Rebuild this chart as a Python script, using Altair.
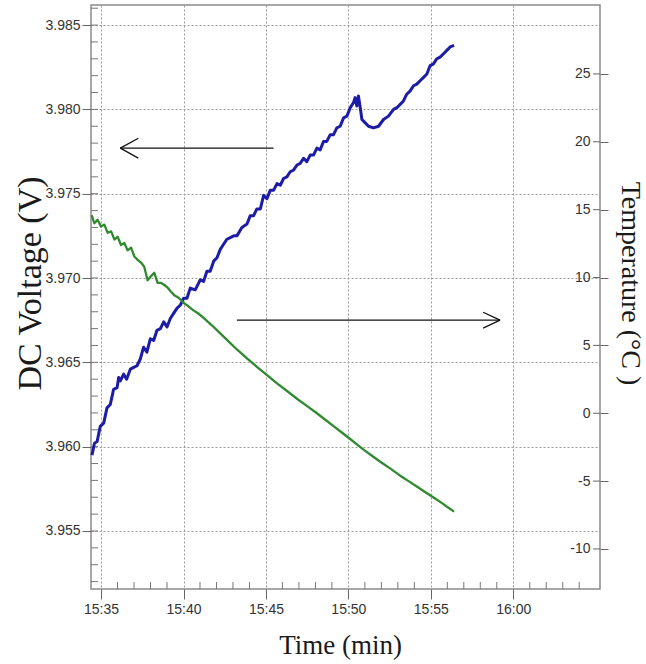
import altair as alt
import pandas as pd

# ---- data (minutes after 15:35) ----
volt_time = [-0.55, -0.40, -0.24, -0.05, 0.16, 0.36, 0.56, 0.76, 0.97, 1.07, 1.17, 1.37, 1.55, 1.78,
             1.98, 2.18, 2.38, 2.58, 2.78, 2.99, 3.19, 3.39, 3.60, 3.80, 4.00, 4.20, 4.40, 4.60, 4.81,
             5.01, 5.21, 5.41, 5.71, 6.02, 6.22, 6.42, 6.62, 6.83, 7.03, 7.23, 7.43, 7.63, 7.84, 8.04,
             8.24, 8.54, 8.85, 9.05, 9.25, 9.45, 9.66, 9.86, 10.06, 10.26, 10.46, 10.67, 10.87, 11.07,
             11.27, 11.47, 11.67, 11.88, 12.08, 12.28, 12.48, 12.69, 12.89, 13.09, 13.29, 13.49, 13.69,
             13.90, 14.10, 14.30, 14.50, 14.71, 14.91, 15.11, 15.31, 15.41, 15.51, 15.61, 15.72, 15.82,
             16.02, 16.22, 16.52, 16.83, 17.13, 17.43, 17.74, 17.94, 18.14, 18.34, 18.54, 18.75, 18.95,
             19.15, 19.35, 19.56, 19.76, 19.96, 20.16, 20.36, 20.56, 20.77, 20.97, 21.17, 21.41]
volt = [3.9595, 3.9602, 3.9603, 3.9612, 3.9614, 3.9623, 3.9625, 3.9634, 3.9635, 3.9641, 3.9639, 3.9643,
        3.9640, 3.9646, 3.9647, 3.9648, 3.9652, 3.9659, 3.9656, 3.9664, 3.9663, 3.9669, 3.9670, 3.9674,
        3.9671, 3.9676, 3.9679, 3.9682, 3.9684, 3.9688, 3.9688, 3.9694, 3.9693, 3.9699, 3.9698, 3.9704,
        3.9704, 3.9710, 3.9712, 3.9717, 3.9720, 3.9723, 3.9724, 3.9725, 3.9725, 3.9730, 3.9732, 3.9737,
        3.9737, 3.9741, 3.9741, 3.9749, 3.9747, 3.9752, 3.9752, 3.9756, 3.9755, 3.9759, 3.9760, 3.9763,
        3.9764, 3.9767, 3.9768, 3.9771, 3.9769, 3.9773, 3.9773, 3.9777, 3.9776, 3.9781, 3.9781, 3.9785,
        3.9785, 3.9789, 3.9790, 3.9795, 3.9796, 3.9801, 3.9804, 3.9807, 3.9802, 3.9808, 3.9801, 3.9794,
        3.9792, 3.9790, 3.9789, 3.9790, 3.9794, 3.9796, 3.9800, 3.9801, 3.9803, 3.9805, 3.9809, 3.9811,
        3.9814, 3.9815, 3.9817, 3.9819, 3.9821, 3.9826, 3.9827, 3.9830, 3.9831, 3.9833, 3.9835, 3.9837,
        3.9838]

temp_time = [-0.57, -0.41, -0.21, 0.0, 0.2, 0.4, 0.61, 0.81, 1.01, 1.21, 1.41, 1.61, 1.82, 2.02, 2.22,
             2.42, 2.62, 2.82, 3.03, 3.23, 3.43, 3.64, 3.84, 4.04, 4.24, 4.44, 4.65, 4.85, 5.0, 5.3,
             5.6, 5.9, 6.2, 6.7, 7.2, 7.7, 8.24, 8.85, 9.45, 10.05, 10.67, 11.3, 11.9, 12.5, 13.09,
             13.6, 14.1, 14.6, 15.11, 15.55, 16.0, 16.45, 16.93, 17.55, 18.14, 18.65, 19.15, 19.6,
             20.0, 20.35, 20.7, 21.05, 21.41]
temp = [14.6, 14.0, 14.25, 13.75, 13.9, 13.3, 13.4, 12.8, 13.0, 12.4, 12.55, 12.0, 12.2, 11.55, 11.3,
        11.1, 10.8, 9.8, 10.1, 10.35, 9.6, 9.6, 9.45, 9.25, 8.95, 8.7, 8.55, 8.35, 8.13, 7.88,
        7.58, 7.35, 7.05, 6.5, 5.92, 5.33, 4.7, 4.05, 3.42, 2.83, 2.2, 1.62, 1.05, 0.52, 0.0,
        -0.48, -0.95, -1.42, -1.9, -2.33, -2.75, -3.15, -3.57, -4.08, -4.6, -5.0, -5.4, -5.76,
        -6.08, -6.36, -6.64, -6.95, -7.25]

x_tick_vals = [0, 5, 10, 15, 20, 25]
x_tick_labels = ["15:35", "15:40", "15:45", "15:50", "15:55", "16:00"]
x_minor = [m for m in range(0, 31) if m % 5 != 0]
v_ticks = [3.955, 3.960, 3.965, 3.970, 3.975, 3.980, 3.985]
v_minor = [round(3.952 + i * 0.001, 3) for i in range(35)]
temp_ticks = [-10, -5, 0, 5, 10, 15, 20, 25]

# arrows: shaft + two head strokes (time, volt) -> (time2, volt2)
arrow_t = [1.17, 1.17, 1.17, 8.24, 24.2, 24.2]
arrow_v = [3.9777, 3.9777, 3.9777, 3.9675, 3.9675, 3.9675]
arrow_t2 = [10.46, 2.26, 2.26, 24.2, 23.17, 23.17]
arrow_v2 = [3.9777, 3.97829, 3.97711, 3.9675, 3.96797, 3.96703]

W, H = 509, 584

volt_df = pd.DataFrame({"t": volt_time, "v": volt})
temp_df = pd.DataFrame({"t": temp_time, "c": temp})
arrow_df = pd.DataFrame({"t": arrow_t, "v": arrow_v, "t2": arrow_t2, "v2": arrow_v2})
vminor_df = pd.DataFrame({"v": v_minor})
xminor_df = pd.DataFrame({"t": x_minor})
cticks_df = pd.DataFrame({"c": temp_ticks})

label_expr = "[" + ",".join("'%s'" % s for s in x_tick_labels) + "][round(datum.value/5)]"

xscale = alt.Scale(domain=[-0.61, 30.26], nice=False, zero=False)
xaxis = alt.Axis(values=x_tick_vals, labelExpr=label_expr, title="Time (min)",
                 grid=True, gridDash=[2, 2], gridColor="#9a9a9a", gridWidth=1,
                 tickSize=10, tickColor="#666", tickWidth=1, domain=False,
                 labelFont="Liberation Sans", labelFontSize=14, labelColor="#333", labelPadding=3,
                 titleFont="Liberation Serif", titleFontSize=27, titleFontWeight="normal",
                 titleColor="#1a1a1a", titleX=249, titleY=56, titleBaseline="middle",
                 titleAlign="center", titleAnchor="start")

vscale = alt.Scale(domain=[3.95156, 3.98619], nice=False, zero=False)
vaxis = alt.Axis(values=v_ticks, format=".3f", title="DC Voltage (V)",
                 grid=True, gridDash=[2, 2], gridColor="#9a9a9a", gridWidth=1,
                 tickSize=9, tickColor="#666", domain=False,
                 labelFont="Liberation Sans", labelFontSize=14, labelColor="#333", labelPadding=2,
                 titleFont="Liberation Serif", titleFontSize=34, titleFontWeight="normal",
                 titleColor="#1a1a1a", titleX=-61, titleY=278, titleAngle=270,
                 titleBaseline="middle", titleAlign="center", titleAnchor="start")

cscale = alt.Scale(domain=[-12.95, 30.08], nice=False, zero=False)
caxis = alt.Axis(orient="right", values=temp_ticks, labelExpr="datum.value + ''",
                 title="Temperature (°C )",
                 grid=False, tickSize=8, tickColor="#666", domain=False,
                 labelFont="Liberation Sans", labelFontSize=14, labelColor="#333",
                 labelAlign="right", labelPadding=-18,
                 titleFont="Liberation Serif", titleFontSize=28, titleFontWeight="normal",
                 titleColor="#1a1a1a", titleX=29, titleY=278, titleAngle=90,
                 titleBaseline="middle", titleAlign="center", titleAnchor="start")

X = alt.X("t:Q", scale=xscale, axis=xaxis)
Yv = alt.Y("v:Q", scale=vscale, axis=vaxis)
Yc = alt.Y("c:Q", scale=cscale, axis=caxis)

blue = alt.Chart(volt_df).mark_line(color="#1c1ca6", strokeWidth=3, strokeJoin="round").encode(x=X, y=Yv)
arrows = alt.Chart(arrow_df).mark_rule(color="#111", strokeWidth=1.3).encode(
    x=X, x2="t2:Q", y=Yv, y2="v2:Q")
vminor = alt.Chart(vminor_df).mark_rule(color="#777", strokeWidth=1).encode(
    y=Yv, x=alt.value(0), x2=alt.value(7))
xminor = alt.Chart(xminor_df).mark_rule(color="#777", strokeWidth=1).encode(
    x=X, y=alt.value(H - 7), y2=alt.value(H))

volt_layer = alt.layer(vminor, xminor, arrows, blue)

green = alt.Chart(temp_df).mark_line(color="#2f8a2f", strokeWidth=2.3, strokeJoin="round").encode(x=X, y=Yc)
cinner = alt.Chart(cticks_df).mark_rule(color="#666", strokeWidth=1).encode(
    y=Yc, x=alt.value(W - 7), x2=alt.value(W))
temp_layer = alt.layer(cinner, green)

chart = alt.layer(volt_layer, temp_layer).resolve_scale(y="independent").properties(
    width=W, height=H,
    padding={"left": 91, "top": 5, "right": 46, "bottom": 75},
    autosize=alt.AutoSizeParams(type="none"),
    background="white",
).configure_view(stroke="#8a8a8a", strokeWidth=1.5)

chart.save("out.html", embed_options={"renderer": "svg", "actions": False})
